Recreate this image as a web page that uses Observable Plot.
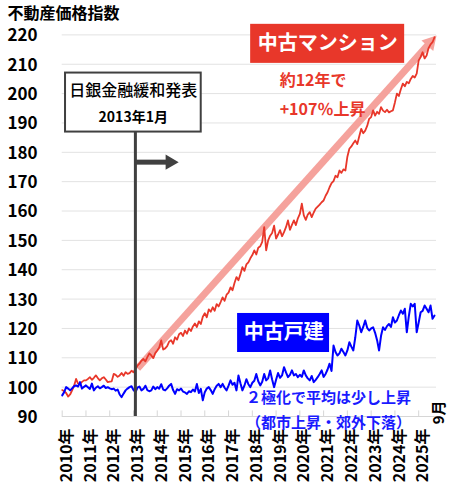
<!DOCTYPE html>
<html><head><meta charset="utf-8">
<script src="https://cdn.jsdelivr.net/npm/d3@7"></script>
<script src="https://cdn.jsdelivr.net/npm/@observablehq/plot@0.6"></script>
<style>body{margin:0;background:#fff}svg{display:block}</style>
</head><body><div id="chart"></div>
<script>
const startYear = 2010;
const yearTicks = [2010,2011,2012,2013,2014,2015,2016,2017,2018,2019,2020,2021,2022,2023,2024,2025];
const yTicks = [90,100,110,120,130,140,150,160,170,180,190,200,210,220];

// 中古マンション (monthly, 2010-01 .. 2025-09)
const mansion = [
  99.0, 98.6, 98.0, 96.8, 97.5, 98.9, 100.5, 102.8, 101.2, 101.1, 101.8, 102.3,
  102.3, 102.8, 103.4, 102.5, 103.2, 104.0, 103.1, 102.3, 103.0, 103.4, 102.6, 101.7,
  101.9, 102.0, 104.5, 104.2, 103.5, 104.0, 104.8, 103.9, 105.1, 104.5, 104.8, 105.6,
  105.1, 106.2, 107.3, 108.0, 109.0, 109.6, 108.8, 110.2, 111.5, 110.8, 109.9, 111.6,
  112.5, 113.5, 115.9, 112.8, 113.2, 114.0, 115.5, 116.0, 114.8, 117.0, 116.2, 118.0,
  118.5, 117.4, 119.3, 118.2, 120.0, 119.1, 120.7, 121.7, 120.5, 122.4, 121.5, 124.0,
  125.2, 123.8, 126.5, 125.7, 127.2, 126.0, 128.3, 127.5, 129.0, 130.6, 129.4, 131.5,
  132.2, 134.0, 133.0, 135.5, 137.5, 136.4, 138.5, 140.9, 139.6, 141.8, 142.5, 143.9,
  145.0, 146.6, 145.2, 147.5, 148.0, 149.5, 154.5, 146.6, 150.0, 151.6, 152.5, 155.0,
  150.6, 152.0, 153.5, 151.4, 152.8, 154.5, 156.8, 153.6, 155.3, 156.8, 155.2, 157.5,
  159.0, 162.5, 158.5, 157.0, 158.8, 159.6, 157.9, 159.5, 160.8, 161.5, 162.2, 163.0,
  163.6, 165.2, 166.4, 168.1, 169.5, 170.2, 172.0, 171.5, 173.8, 173.0, 174.2, 173.8,
  178.5, 181.2, 182.0, 183.1, 184.0, 182.8, 185.5, 188.0, 186.5, 187.4, 189.0, 191.4,
  192.0, 194.3, 192.5, 193.8, 193.1, 195.4, 194.2, 193.7, 194.5, 193.6, 194.0, 194.3,
  197.0, 200.0, 199.2, 201.5, 203.4, 202.5, 204.0, 203.5, 205.0, 206.0, 205.5, 206.8,
  211.3, 212.5, 214.1, 212.0, 213.0, 215.5, 216.8, 217.5, 219.2
];

// 中古戸建 (monthly, 2010-01 .. 2025-09)
const detached = [
  97.2, 98.3, 100.0, 99.5, 98.9, 99.6, 100.3, 100.6, 100.2, 101.7, 99.5, 100.1,
  100.6, 100.0, 99.4, 101.2, 98.9, 99.8, 100.3, 99.6, 100.0, 100.5, 99.7, 100.0,
  99.6, 99.3, 99.5, 98.8, 99.2, 97.5, 96.6, 97.8, 98.9, 99.5, 100.0, 100.3,
  99.0, 98.3, 99.8, 100.2, 98.9, 99.4, 100.5, 99.0, 98.6, 98.9, 100.2, 99.3,
  100.0, 99.5, 101.0, 99.2, 98.9, 99.6, 100.5, 101.1, 99.0, 97.7, 99.3, 98.9,
  99.5, 98.5, 98.2, 97.7, 98.6, 98.3, 99.2, 98.5, 101.1, 98.0, 99.4, 95.5,
  98.3, 99.5, 100.0, 99.0, 97.7, 99.3, 100.5, 101.1, 100.0, 101.1, 99.8, 98.9,
  100.5, 102.3, 100.8, 101.5, 98.9, 104.0, 101.3, 98.9, 100.5, 102.7, 101.0, 100.0,
  101.5, 102.2, 104.5, 102.0, 100.6, 101.8, 104.5, 102.3, 103.0, 105.7, 102.6, 100.0,
  102.5, 104.8, 103.2, 104.0, 106.8, 105.0, 103.4, 104.2, 105.7, 104.0, 104.5, 103.4,
  104.2, 103.5, 105.7, 104.0, 103.0, 102.3, 103.8, 101.7, 102.5, 103.4, 104.5, 105.7,
  103.5, 104.5, 106.0, 108.0, 105.5, 114.2, 112.0, 110.8, 111.5, 113.1, 112.0, 110.8,
  112.5, 115.3, 113.8, 112.5, 117.0, 122.7, 121.0, 118.7, 120.5, 122.7, 120.2, 119.3,
  120.0, 120.4, 118.5, 116.0, 112.5, 117.5, 120.4, 119.5, 120.8, 121.5, 120.5, 123.8,
  122.0, 122.7, 124.5, 126.1, 125.0, 126.7, 118.7, 124.0, 128.4, 127.5, 128.4, 118.7,
  122.0, 125.5, 126.0, 127.8, 126.7, 125.5, 127.8, 123.3, 124.4
];

// annotations (data coordinates: decimal year, index)
const eventX = 2013.08;
const eventBox = {x1: 2010.14, x2: 2015.85, y1: 186.9, y2: 207.0};
const eventTitle = {x: 2012.99, y: 201.1, text: "日銀金融緩和発表"};
const eventDate = {x: 2012.99, y: 191.9, text: "2013年1月"};
const eventArrow = {x1: 2013.08, x2: 2014.9, y: 176.65};
const trendArrow = {x1: 2013.17, y1: 106.35, x2: 2025.75, y2: 219.8};
const mansionBox = {x1: 2017.93, x2: 2024.41, y1: 210.3, y2: 223.6};
const mansionLabel = {x: 2021.17, y: 216.9, text: "中古マンション"};
const mansionNotes = [
  {x: 2019.15, y: 204.5, text: "約12年で"},
  {x: 2019.15, y: 194.3, text: "+107％上昇"}
];
const detachedBox = {x1: 2017.38, x2: 2021.25, y1: 111.8, y2: 125.1};
const detachedLabel = {x: 2019.32, y: 118.45, text: "中古戸建"};
const detachedNotes = [
  {x: 2021.21, y: 96.1, text: "２極化で平均は少し上昇"},
  {x: 2021.21, y: 87.6, text: "（都市上昇・郊外下落）"}
];
const monthNote = {x: 2025.86, y: 91.4, text: "9月"};
const titleText = "不動産価格指数";

const data = mansion.map((v, i) => ({t: startYear + i / 12, mansion: v, detached: detached[i]}));

const FONT = "'Noto Sans CJK JP', 'Noto Sans', sans-serif";
const RED = "#e8372a", BLUE = "#0000ff", PINK = "#f5a29c", DARK = "#404040";

const chart = Plot.plot({
  width: 450, height: 487,
  marginLeft: 61.7, marginRight: 14, marginTop: 34.4, marginBottom: 71,
  style: {fontFamily: FONT, background: "#fff", color: "#000", overflow: "visible"},
  x: {domain: [2010, 2025.75], axis: null},
  y: {domain: [90, 220]},
  marks: [
    Plot.gridY(yTicks.filter(d => d > 90), {stroke: "#e2e2e2", strokeOpacity: 1}),
    Plot.ruleY([90], {stroke: "#d6d6d6"}),
    Plot.ruleX(yearTicks, {x: d => d, y1: 90, y2: 91.9, stroke: "#d6d6d6"}),
    Plot.axisY(yTicks, {tickSize: 0, tickPadding: 24.7, fontSize: 17, fontWeight: "bold", label: null, fill: "#000", dy: 1}),
    Plot.text(yearTicks, {x: d => d, frameAnchor: "bottom", text: d => `${d}年`, rotate: -90,
      textAnchor: "end", lineAnchor: "middle", dx: 4.5, dy: 12, fontSize: 16, fontWeight: "bold", fill: "#000"}),
    Plot.text([monthNote], {x: "x", y: "y", text: "text", rotate: -90, fontSize: 15, fontWeight: "bold", fill: "#000"}),
    Plot.text([titleText], {frameAnchor: "top-left", text: d => d, dx: -54.7, dy: -21.5, textAnchor: "start",
      lineAnchor: "middle", fontSize: 16, fontWeight: "bold", fill: "#000"}),
    // trend arrow
    Plot.arrow([trendArrow], {x1: "x1", y1: "y1", x2: "x2", y2: "y2", stroke: PINK, strokeWidth: 7,
      headLength: 0, insetEnd: 8, strokeLinecap: "butt"}),
    Plot.dot([trendArrow], {x: "x2", y: "y2", symbol: "triangle", r: 5.9, fill: PINK, stroke: "none",
      rotate: 41.9, dx: -6.1, dy: 6.8}),
    // series
    Plot.line(data, {x: "t", y: "mansion", stroke: RED, strokeWidth: 1.8}),
    Plot.line(data, {x: "t", y: "detached", stroke: BLUE, strokeWidth: 2}),
    // event line, box, arrow
    Plot.ruleX([eventX], {x: d => d, y1: 90, y2: eventBox.y1, stroke: DARK, strokeWidth: 3}),
    Plot.rect([eventBox], {x1: "x1", x2: "x2", y1: "y1", y2: "y2", fill: "#fff", stroke: DARK, strokeWidth: 2}),
    Plot.text([eventTitle], {x: "x", y: "y", text: "text", fontSize: 16, fontWeight: 500, fill: "#000"}),
    Plot.text([eventDate], {x: "x", y: "y", text: "text", fontSize: 14, fontWeight: "bold", fill: "#000"}),
    Plot.arrow([eventArrow], {x1: "x1", y1: "y", x2: "x2", y2: "y", stroke: DARK, strokeWidth: 5,
      headLength: 0, insetEnd: 12, strokeLinecap: "butt"}),
    Plot.dot([eventArrow], {x: "x2", y: "y", symbol: "triangle", r: 5.6, fill: DARK, stroke: "none", rotate: 90, dx: -8.7}),
    // mansion label
    Plot.rect([mansionBox], {x1: "x1", x2: "x2", y1: "y1", y2: "y2", fill: RED}),
    Plot.text([mansionLabel], {x: "x", y: "y", text: "text", fontSize: 20, fontWeight: "bold", fill: "#fff"}),
    Plot.text(mansionNotes, {x: "x", y: "y", text: "text", textAnchor: "start", fontSize: 16, fontWeight: "bold", fill: RED}),
    // detached label
    Plot.rect([detachedBox], {x1: "x1", x2: "x2", y1: "y1", y2: "y2", fill: BLUE}),
    Plot.text([detachedLabel], {x: "x", y: "y", text: "text", fontSize: 20, fontWeight: "bold", fill: "#fff"}),
    Plot.text(detachedNotes, {x: "x", y: "y", text: "text", fontSize: 15, fontWeight: "bold", fill: "#1a1aff"})
  ]
});
document.getElementById("chart").appendChild(chart);
</script></body></html>
